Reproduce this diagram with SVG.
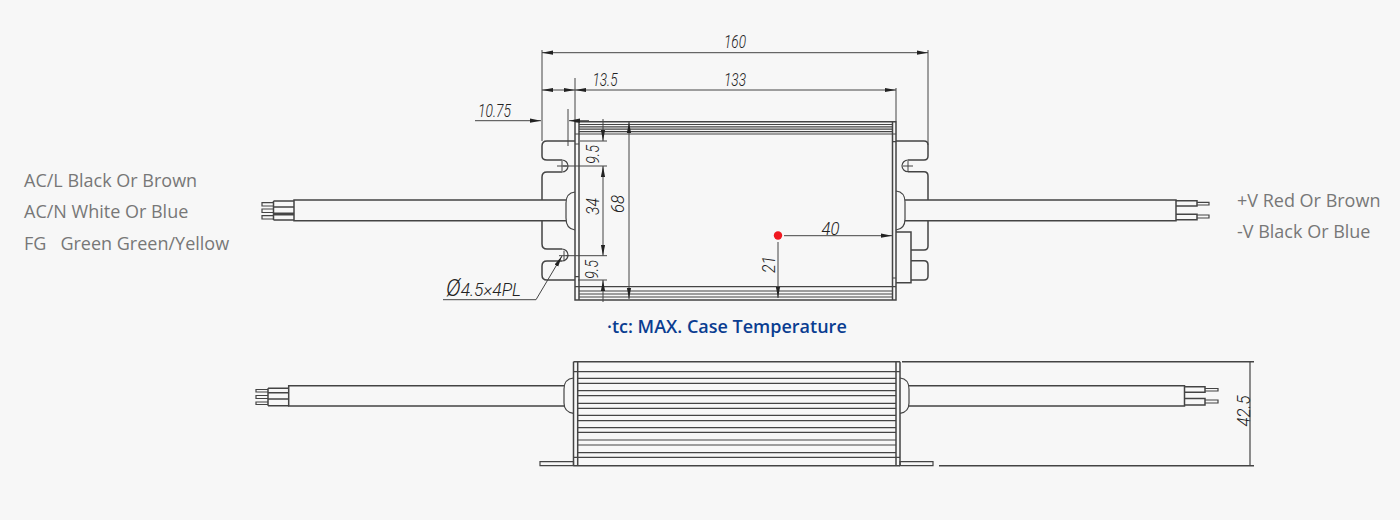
<svg xmlns="http://www.w3.org/2000/svg" width="1400" height="520" viewBox="0 0 1400 520">
<style>
.l{fill:none;stroke:#444;stroke-width:1.2}
.h{fill:none;stroke:#444;stroke-width:1.5}
.d{fill:none;stroke:#444;stroke-width:1}
.c{font-family:Roboto,"Liberation Sans",Arial,sans-serif;font-style:italic;font-weight:300;font-size:18px;fill:#222;text-anchor:middle}
.t{font-family:"Open Sans","Noto Sans",sans-serif;font-size:18px;fill:#777}
</style>
<defs>
<marker id="a" markerUnits="userSpaceOnUse" markerWidth="12" markerHeight="6" refX="11" refY="3" orient="auto-start-reverse"><path d="M0 .9L11 3L0 5.1z" fill="#222"/></marker>
</defs>
<rect width="1400" height="520" fill="#f7f7f7"/>
<g id="top-view">
<path class="h" d="M575 121.700H896V300H575zM579 121.700V300M892.500 121.700V300"/>
<path class="l" d="M579 124.500H892.500M579 126.800H892.500M579 129.200H892.500M579 131.600H892.500M575 134H896M575 144H579M892.500 141.700H896M575 276.700H579M892.500 278H896M575 286.700H896M579 291H892.500M579 294H892.500M579 297H892.500"/>
<path class="h" d="M575 141H547Q542 141 542 146V156Q542 160 547 160H562"/>
<path class="h" d="M562 172H547Q542 172 542 177V200M542 220.700V244Q542 249 547 249H562"/>
<path class="h" d="M562 261H547Q542 261 542 266V275Q542 280 547 280H575"/>
<path class="l" d="M562 160A6 6 0 0 1 562 172M562 249A6 6 0 0 1 562 261"/>
<path class="d" d="M557 166H567M562 161V171M559 255.700H569M564 250.700V260.700"/>
<path class="h" d="M896 141H924Q928 141 928 145V156Q928 160 924 160H908M908 171.700H924Q928 171.700 928 176V200M928 220.700V246Q928 250 924 250H911"/>
<path class="l" d="M908 160A6 5.850 0 0 0 908 171.700"/>
<path class="d" d="M903 166H913M908 161V171"/>
<path class="h" d="M896 232H911V282.700H896M911 260.700H924Q928 260.700 928 265V276Q928 280 924 280H911"/>
<path class="l" d="M575 192Q566 193 566 203V218Q566 229 575 230"/>
<path class="l" d="M896 191Q905 192 905 202V219Q905 229 896 230"/>
</g>
<g id="left-cable">
<path class="h" d="M566 200H294V220.700H566"/>
<path class="h" d="M273.500 201H294M273.500 207H294M273.500 220H294M273.500 201V220"/>
<path d="M273.500 212.500H294V215.500H273.500z" fill="#444"/>
<path class="l" d="M273.500 202.700H262V206H273.500M273.500 209H262V212.500H273.500M273.500 215.700H262V219H273.500"/>
</g>
<g id="right-cable">
<path class="h" d="M905 200H1176V220.700H905M1176 200V220.700"/>
<path class="h" d="M1176 200.700H1197V206H1176M1176 214.300H1197V219.700H1176"/>
<path class="l" d="M1197 202.300H1209V205H1197M1197 215H1209V218H1197"/>
</g>
<g id="side-view">
<path class="h" d="M573.500 361.700H896M573.500 465.700H896M573.500 361.700V465.700M577.700 361.700V465.700M896 361.700V465.700M900 361.700V465.700M896 361.700H900M896 465.700H900"/>
<path class="l" d="M574 371.700H900M578 378.300H896M578 383.300H896M578 390.700H896M578 395.700H896M578 403.300H896M578 408.300H896M578 415.300H896M578 420.700H896M578 427.700H896M578 432.300H896M578 440H896M578 445H896M578 452.700H896M574 457.300H900"/>
<path class="l" d="M540 461.700H573.500V465.700H540zM900 461.700H933V465.700H900z"/>
<path class="l" d="M573.500 378Q564 379 564 389V403Q564 412 573.500 413.300"/>
<path class="l" d="M900 378Q909 379 909 389V403Q909 412 900 413.300"/>
<path class="h" d="M564 385.700H288.700V406H564"/>
<path class="h" d="M268 388.300H288.700M268 392.700H288.700M268 399H288.700M268 405.700H288.700M268 388.300V405.700"/>
<path class="l" d="M268 389.500H256V392H268M268 395.500H256V398.500H268M268 402H256V404.500H268"/>
<path class="h" d="M909 385.700H1184.500V406H909M1184.500 385.700V406"/>
<path class="h" d="M1184.500 386.700H1205V392.300H1184.500M1184.500 398.500H1205V405H1184.500"/>
<path class="l" d="M1205 388.500H1218V391H1205M1205 400H1218V403H1205"/>
</g>
<g id="connectors">
<path class="d" d="M542 50V141M928 50V145M575 78V122M896 88V121M568 109V146"/>
<line class="d" x1="542" y1="52.700" x2="928" y2="52.700" marker-start="url(#a)" marker-end="url(#a)"/>
<line class="d" x1="542" y1="90" x2="575" y2="90" marker-start="url(#a)" marker-end="url(#a)"/>
<line class="d" x1="575" y1="90" x2="896" y2="90" marker-start="url(#a)" marker-end="url(#a)"/>
<line class="d" x1="475" y1="120.700" x2="541" y2="120.700" marker-end="url(#a)"/>
<line class="d" x1="589" y1="120.700" x2="569" y2="120.700" marker-end="url(#a)"/>
<path class="d" d="M580 141H607M563 166H607M566 255.700H607M578 280H607"/>
<line class="d" x1="603" y1="119" x2="603" y2="141" marker-end="url(#a)"/>
<line class="d" x1="603" y1="255.700" x2="603" y2="166" marker-start="url(#a)" marker-end="url(#a)"/>
<line class="d" x1="603" y1="302" x2="603" y2="280" marker-end="url(#a)"/>
<line class="d" x1="629" y1="122" x2="629" y2="299" marker-start="url(#a)" marker-end="url(#a)"/>
<line class="d" x1="784" y1="235.700" x2="892" y2="235.700" marker-end="url(#a)"/>
<line class="d" x1="778" y1="242" x2="778" y2="298" marker-end="url(#a)"/>
<line class="d" x1="536" y1="299.700" x2="562" y2="256" marker-end="url(#a)"/>
<path class="d" d="M443 299.700H536"/>
<path class="h" d="M902 361.700H1254M939 465.700H1254"/>
<path class="l" d="M1250 361.700V465.700"/>
</g>
<circle id="tc-point" cx="778" cy="235.500" r="4.200" fill="#f01820"/>
<g id="dimension-labels">
<text class="c" x="735" y="48" textLength="22" lengthAdjust="spacingAndGlyphs">160</text>
<text class="c" x="605" y="86" textLength="25" lengthAdjust="spacingAndGlyphs">13.5</text>
<text class="c" x="735" y="86" textLength="22" lengthAdjust="spacingAndGlyphs">133</text>
<text class="c" x="494.500" y="117" textLength="33" lengthAdjust="spacingAndGlyphs">10.75</text>
<text class="c" transform="translate(599 154.500) rotate(-90)" textLength="19" lengthAdjust="spacingAndGlyphs">9.5</text>
<text class="c" transform="translate(599 206.500) rotate(-90)" textLength="17" lengthAdjust="spacingAndGlyphs">34</text>
<text class="c" transform="translate(624 204) rotate(-90)" textLength="18" lengthAdjust="spacingAndGlyphs">68</text>
<text class="c" transform="translate(598 269.500) rotate(-90)" textLength="19" lengthAdjust="spacingAndGlyphs">9.5</text>
<text class="c" x="830.500" y="234.500" textLength="18" lengthAdjust="spacingAndGlyphs">40</text>
<text class="c" transform="translate(775 264.500) rotate(-90)" textLength="17" lengthAdjust="spacingAndGlyphs">21</text>
<text class="c" transform="translate(1249.500 411) rotate(-90)" textLength="31" lengthAdjust="spacingAndGlyphs">42.5</text>
<text class="c" x="446" y="296" textLength="75" lengthAdjust="spacingAndGlyphs" style="text-anchor:start"><tspan font-size="23">Ø</tspan>4.5×4PL</text>
</g>
<g id="wire-labels">
<text class="t" x="24" y="187">AC/L Black Or Brown</text>
<text class="t" x="24" y="218">AC/N White Or Blue</text>
<text class="t" x="24" y="250" xml:space="preserve">FG   Green Green/Yellow</text>
<text class="t" x="1237" y="207">+V Red Or Brown</text>
<text class="t" x="1237" y="238">-V Black Or Blue</text>
</g>
<text id="tc-note" x="607" y="333" font-family="'Open Sans','Noto Sans',sans-serif" font-size="18" font-weight="600" fill="#0a3d91">·tc: MAX. Case Temperature</text>
</svg>
